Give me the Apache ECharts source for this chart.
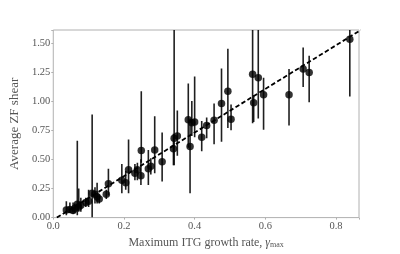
<!DOCTYPE html>
<html>
<head>
<meta charset="utf-8">
<script src="https://cdn.jsdelivr.net/npm/echarts@6/dist/echarts.min.js"></script>
<style>html,body{margin:0;padding:0;background:#fff}#c{width:400px;height:254px}</style>
</head>
<body>
<div id="c"></div>
<script>
// Data
var growthRate = [0.037,0.047,0.056,0.061,0.068,0.072,0.078,0.092,0.100,0.110,0.118,0.124,0.130,0.150,0.156,0.194,0.205,0.213,0.231,0.238,0.248,0.249,0.269,0.276,0.287,0.308,0.340,0.342,0.351,0.382,0.387,0.392,0.400,0.420,0.434,0.455,0.476,0.494,0.503,0.564,0.567,0.580,0.595,0.667,0.707,0.724,0.839];
var zfShear    = [0.065,0.070,0.060,0.080,0.115,0.090,0.105,0.130,0.140,0.210,0.200,0.180,0.160,0.200,0.290,0.320,0.300,0.410,0.380,0.410,0.360,0.575,0.420,0.440,0.580,0.480,0.590,0.680,0.700,0.840,0.610,0.815,0.820,0.690,0.790,0.835,0.980,1.085,0.845,1.230,0.985,1.200,1.055,1.055,1.275,1.245,1.530];
var errLow     = [0.020,0.040,0.030,0.040,0.020,0.050,0.050,0.090,0.090,0.000,0.120,0.120,0.120,0.160,0.190,0.210,0.240,0.210,0.320,0.320,0.280,0.470,0.280,0.370,0.380,0.310,0.450,0.450,0.530,0.600,0.210,0.700,0.690,0.570,0.680,0.630,0.650,0.770,0.750,0.810,0.820,0.850,0.755,0.790,1.120,0.990,1.040];
var errHigh    = [0.140,0.130,0.130,0.120,0.660,0.250,0.170,0.170,0.240,0.885,0.260,0.300,0.200,0.240,0.420,0.460,0.400,0.670,0.460,0.470,0.500,1.085,0.580,0.510,0.870,0.730,0.720,1.700,0.920,1.150,0.850,1.000,1.210,0.830,0.860,0.980,1.280,1.450,0.970,1.700,1.050,1.700,1.200,1.275,1.460,1.390,1.700];
var fitX = [0.010, 0.870];
var fitY = [0.000, 1.610];
var xTicks = [0, 0.2, 0.4, 0.6, 0.8];
var yTicks = [0, 0.25, 0.5, 0.75, 1.0, 1.25, 1.5];

var points = growthRate.map(function(x,i){return [x, zfShear[i]];});
var bars = growthRate.map(function(x,i){return [x, errLow[i], errHigh[i]];});
var fitLine = fitX.map(function(x,i){return [x, fitY[i]];});

var font = 'Liberation Serif';
var chart = echarts.init(document.getElementById('c'), null, {renderer:'canvas'});
chart.setOption({
  animation:false,
  grid:{left:50, right:41, top:30, bottom:28, show:true, borderColor:'#b0b0b0', borderWidth:1},
  xAxis:{
    type:'value', min:0, max:0.865, interval:0.2,
    axisLine:{show:false},
    splitLine:{show:false},
    axisTick:{show:true, length:2, lineStyle:{color:'#b0b0b0'}},
    axisLabel:{fontFamily:font, fontSize:10.5, color:'#555', margin:3,
      formatter:function(v){ for (var i=0;i<xTicks.length;i++){ if (Math.abs(v-xTicks[i])<1e-6) return xTicks[i].toFixed(1);} return ''; }},
    name:'Maximum ITG growth rate, {g|γ}{s|max}',
    nameLocation:'middle', nameGap:11,
    nameTextStyle:{fontFamily:font, fontSize:12, color:'#555', verticalAlign:'top',
      rich:{g:{fontFamily:font, fontSize:12, color:'#555', fontStyle:'italic'}, s:{fontFamily:font, fontSize:8, color:'#555', padding:[5,0,0,0]}}}
  },
  yAxis:{
    type:'value', min:0, max:1.61, interval:0.25,
    axisLine:{show:false},
    splitLine:{show:false},
    axisTick:{show:true, length:2, lineStyle:{color:'#b0b0b0'}},
    axisLabel:{fontFamily:font, fontSize:10.5, color:'#555', margin:3,
      formatter:function(v){ for (var i=0;i<yTicks.length;i++){ if (Math.abs(v-yTicks[i])<1e-6) return yTicks[i].toFixed(2);} return ''; }},
    name:'Average ZF shear', nameLocation:'middle', nameGap:26, nameRotate:90,
    nameTextStyle:{fontFamily:font, fontSize:13, color:'#555'}
  },
  series:[
    {
      type:'custom', clip:true, data:bars, z:2,
      renderItem:function(params, api){
        var p1 = api.coord([api.value(0), api.value(1)]);
        var p2 = api.coord([api.value(0), api.value(2)]);
        return {type:'line', shape:{x1:p1[0], y1:p1[1], x2:p2[0], y2:p2[1]},
          style:{stroke:'rgba(0,0,0,0.88)', lineWidth:1.6}};
      }
    },
    {
      type:'scatter', data:points, symbol:'circle', symbolSize:7.5, z:3,
      itemStyle:{color:'#000'}
    },
    {
      type:'line', data:fitLine, symbol:'none', z:4, clip:true,
      lineStyle:{color:'#000', width:1.8, type:[4.5,2.5]}
    }
  ]
});
</script>
</body>
</html>
